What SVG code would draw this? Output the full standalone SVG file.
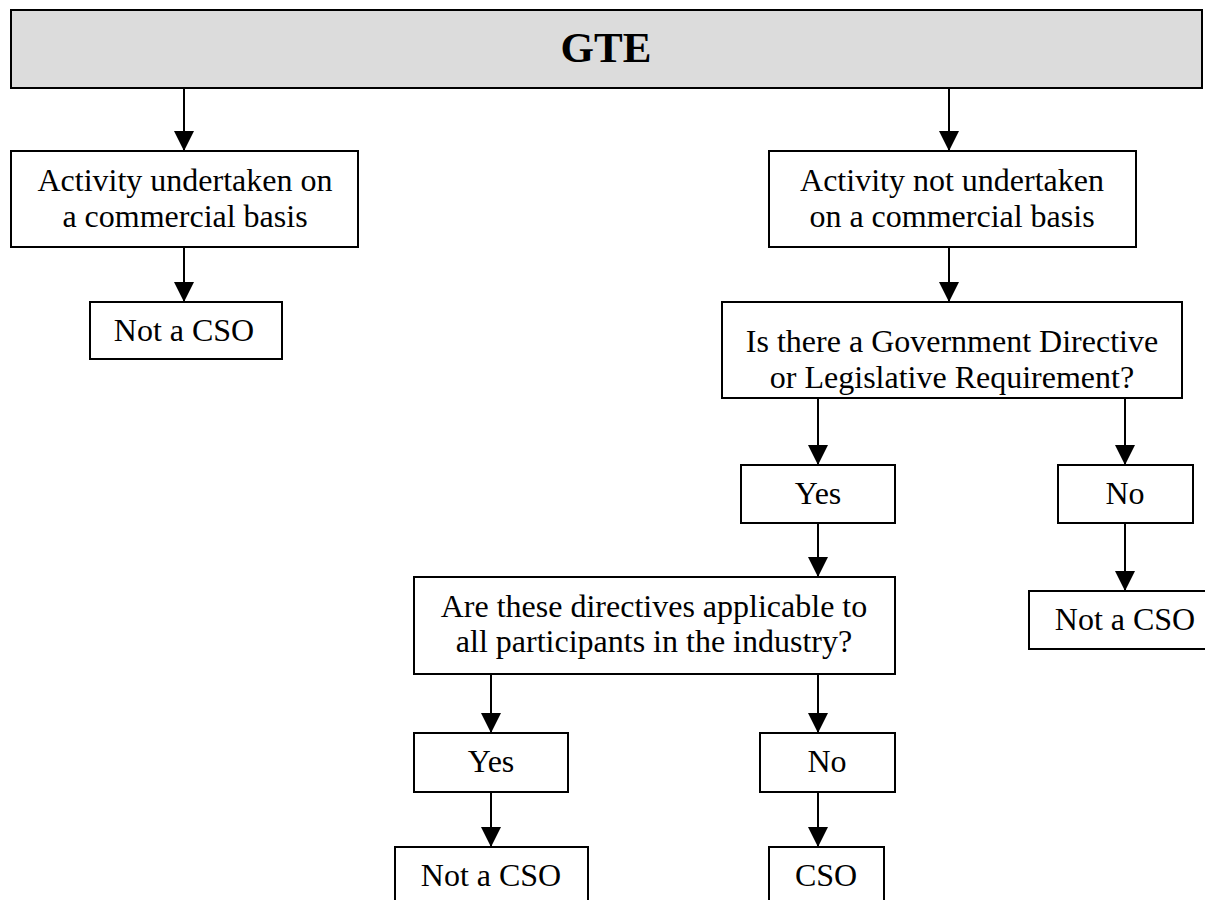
<svg xmlns="http://www.w3.org/2000/svg" width="1205" height="900" viewBox="0 0 1205 900">
<style>
.box{fill:#ffffff;stroke:#000000;stroke-width:2}
.hdr{fill:#dcdcdc;stroke:#000000;stroke-width:2}
.t{font-family:"Liberation Serif","Times New Roman",serif;font-size:32px;fill:#000000;text-anchor:middle}
.h{font-family:"Liberation Serif","Times New Roman",serif;font-size:43px;font-weight:bold;fill:#000000;text-anchor:middle}
.c{stroke:#000000;stroke-width:2;fill:none}
</style>
<defs>
<marker id="ah" markerUnits="userSpaceOnUse" markerWidth="22" markerHeight="22" viewBox="0 0 22 22" refX="20" refY="11" orient="auto">
<path d="M0,1 L20,11 L0,21 Z" fill="#000000"/>
</marker>
</defs>
<rect width="1205" height="900" fill="#ffffff"/>
<g id="connectors">
<line class="c" x1="184" y1="89" x2="184" y2="151" marker-end="url(#ah)"/>
<line class="c" x1="949" y1="89" x2="949" y2="151" marker-end="url(#ah)"/>
<line class="c" x1="184" y1="247" x2="184" y2="302" marker-end="url(#ah)"/>
<line class="c" x1="949" y1="247" x2="949" y2="302" marker-end="url(#ah)"/>
<line class="c" x1="818" y1="398" x2="818" y2="465" marker-end="url(#ah)"/>
<line class="c" x1="1125" y1="398" x2="1125" y2="465" marker-end="url(#ah)"/>
<line class="c" x1="818" y1="523" x2="818" y2="577" marker-end="url(#ah)"/>
<line class="c" x1="1125" y1="523" x2="1125" y2="591" marker-end="url(#ah)"/>
<line class="c" x1="491" y1="674" x2="491" y2="733" marker-end="url(#ah)"/>
<line class="c" x1="818" y1="674" x2="818" y2="733" marker-end="url(#ah)"/>
<line class="c" x1="491" y1="792" x2="491" y2="847" marker-end="url(#ah)"/>
<line class="c" x1="818" y1="792" x2="818" y2="847" marker-end="url(#ah)"/>
</g>
<g id="gte">
<rect class="hdr" x="11" y="10" width="1191" height="78"/>
<text class="h" x="606" y="62">GTE</text>
</g>
<g id="commercial">
<rect class="box" x="11" y="151" width="347" height="96"/>
<text class="t" x="185" y="191">Activity undertaken on</text>
<text class="t" x="185" y="227">a commercial basis</text>
</g>
<g id="not-commercial">
<rect class="box" x="769" y="151" width="367" height="96"/>
<text class="t" x="952" y="191">Activity not undertaken</text>
<text class="t" x="952" y="227">on a commercial basis</text>
</g>
<g id="not-cso-1">
<rect class="box" x="90" y="302" width="192" height="57"/>
<text class="t" x="184" y="341">Not a CSO</text>
</g>
<g id="directive">
<rect class="box" x="722" y="302" width="460" height="96"/>
<text class="t" x="952" y="352">Is there a Government Directive</text>
<text class="t" x="952" y="388">or Legislative Requirement?</text>
</g>
<g id="yes-1">
<rect class="box" x="741" y="465" width="154" height="58"/>
<text class="t" x="818" y="504">Yes</text>
</g>
<g id="no-1">
<rect class="box" x="1058" y="465" width="135" height="58"/>
<text class="t" x="1125" y="504">No</text>
</g>
<g id="not-cso-2">
<rect class="box" x="1029" y="591" width="192" height="58"/>
<text class="t" x="1125" y="630">Not a CSO</text>
</g>
<g id="applicable">
<rect class="box" x="414" y="577" width="481" height="97"/>
<text class="t" x="654" y="617">Are these directives applicable to</text>
<text class="t" x="654" y="652">all participants in the industry?</text>
</g>
<g id="yes-2">
<rect class="box" x="414" y="733" width="154" height="59"/>
<text class="t" x="491" y="772">Yes</text>
</g>
<g id="no-2">
<rect class="box" x="760" y="733" width="135" height="59"/>
<text class="t" x="827" y="772">No</text>
</g>
<g id="not-cso-3">
<rect class="box" x="395" y="847" width="193" height="70"/>
<text class="t" x="491" y="886">Not a CSO</text>
</g>
<g id="cso">
<rect class="box" x="769" y="847" width="115" height="70"/>
<text class="t" x="826" y="886">CSO</text>
</g>
</svg>
